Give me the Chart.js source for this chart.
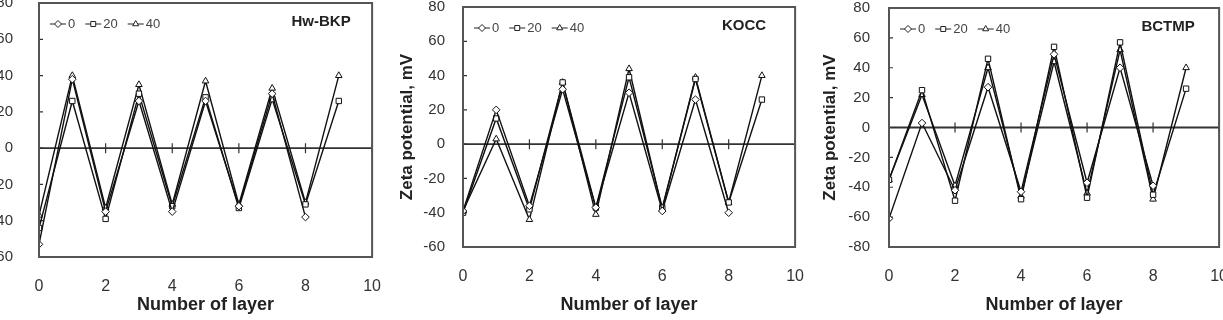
<!DOCTYPE html>
<html>
<head>
<meta charset="utf-8">
<script src="https://cdn.jsdelivr.net/npm/chart.js@4.4.1/dist/chart.umd.min.js"></script>
<style>
  body { margin: 0; background: #fff; width: 1223px; height: 320px; overflow: hidden; position: relative; }
  canvas { position: absolute; top: -20px; }
</style>
</head>
<body>
<canvas id="hw" width="451" height="352" style="left:-50px; top:-32px"></canvas>
<canvas id="kocc" width="429" height="340" style="left:395px"></canvas>
<canvas id="bctmp" width="428" height="340" style="left:820px"></canvas>
<script>
// number of layers (x) and the three series (legend labels)
var layers = [0, 1, 2, 3, 4, 5, 6, 7, 8, 9];
var seriesNames = ['0', '20', '40'];
var xTicks = [0, 2, 4, 6, 8, 10];
var yTicks60 = [-60, -40, -20, 0, 20, 40, 60, 80];
var yTicks80 = [-80, -60, -40, -20, 0, 20, 40, 60, 80];

// Hw-BKP
var hw0  = [-53, 38, -35, 26, -35, 26, -32, 30, -38];
var hw20 = [-44, 26, -39, 30, -32, 28, -33, 27, -31, 26];
var hw40 = [-37, 40, -33, 35, -31, 37, -31, 33, -30, 40];

// KOCC
var kocc0  = [-39, 20, -36, 32, -37, 30, -39, 26, -40];
var kocc20 = [-40, 15, -38, 36, -37, 39, -37, 38, -34, 26];
var kocc40 = [-39, 3, -44, 36, -41, 44, -38, 39, -34, 40];

// BCTMP
var bctmp0  = [-61, 3, -42, 27, -43, 49, -37, 40, -39];
var bctmp20 = [-35, 25, -49, 46, -48, 54, -47, 57, -45, 26];
var bctmp40 = [-35, 22, -39, 40, -46, 44, -44, 52, -48, 40];

var FONT = "'Liberation Sans', Arial, sans-serif";
var markers = ['rectRot', 'rect', 'triangle'];

function points(vals) {
  var out = [];
  for (var i = 0; i < vals.length; i++) {
    out.push({x: layers[i], y: vals[i]});
  }
  return out;
}

// box, zero line with its ticks, legend and sample name
var framePlugin = {
  id: 'frame',
  beforeDatasetsDraw: function(chart) {
    var ctx = chart.ctx, a = chart.chartArea, x = chart.scales.x, y = chart.scales.y;
    var y0 = y.getPixelForValue(0);
    ctx.save();
    ctx.strokeStyle = '#333';
    ctx.lineWidth = 1.8;
    ctx.beginPath();
    ctx.moveTo(a.left, y0);
    ctx.lineTo(a.right, y0);
    ctx.stroke();
    ctx.lineWidth = 1.2;
    ctx.beginPath();
    x.ticks.forEach(function(t) {
      var px = x.getPixelForValue(t.value);
      ctx.moveTo(px, y0 - 5);
      ctx.lineTo(px, y0 + 5);
    });
    y.ticks.forEach(function(t) {
      var py = y.getPixelForValue(t.value);
      ctx.moveTo(a.left, py);
      ctx.lineTo(a.left + 4, py);
    });
    ctx.stroke();
    ctx.restore();
  },
  afterDraw: function(chart) {
    var ctx = chart.ctx, a = chart.chartArea;
    ctx.save();
    ctx.strokeStyle = '#555';
    ctx.lineWidth = 2;
    ctx.strokeRect(a.left, a.top, a.right - a.left, a.bottom - a.top);

    // legend
    ctx.font = '13px ' + FONT;
    ctx.textBaseline = 'middle';
    var lx = a.left + 11, ly = a.top + 21;
    chart.data.datasets.forEach(function(ds) {
      ctx.strokeStyle = '#222';
      ctx.lineWidth = 1;
      ctx.beginPath();
      ctx.moveTo(lx, ly);
      ctx.lineTo(lx + 16, ly);
      ctx.stroke();
      ctx.fillStyle = '#fff';
      Chart.helpers.drawPoint(ctx, {pointStyle: ds.pointStyle, radius: 3.5, borderWidth: 1, rotation: 0}, lx + 8, ly);
      ctx.fillStyle = '#444';
      ctx.textAlign = 'left';
      ctx.fillText(ds.label, lx + 18, ly);
      lx += 18 + ctx.measureText(ds.label).width + 10;
    });

    ctx.font = 'bold 15px ' + FONT;
    ctx.fillStyle = '#222';
    ctx.textAlign = 'center';
    ctx.fillText(chart.options.plugins.frame.name, a.right - 51, a.top + 19);
    ctx.restore();
  }
};

function makePanel(id, series, yTicks, name, opt) {
  var datasets = series.map(function(vals, i) {
    return {
      label: seriesNames[i],
      data: points(vals),
      borderColor: '#111',
      borderWidth: 1.4,
      pointStyle: markers[i],
      pointRadius: 3.8,
      pointBorderWidth: 1,
      pointBorderColor: '#111',
      pointBackgroundColor: '#fff',
      tension: 0
    };
  });

  return new Chart(document.getElementById(id), {
    type: 'line',
    data: {datasets: datasets},
    options: {
      responsive: false,
      animation: false,
      layout: {padding: {top: opt.top, left: 0, right: 20, bottom: 0}},
      plugins: {
        legend: {display: false},
        tooltip: {enabled: false},
        frame: {name: name}
      },
      scales: {
        x: {
          type: 'linear',
          min: 0, max: 10,
          grid: {display: false, drawTicks: false},
          border: {display: false},
          afterBuildTicks: function(s) { s.ticks = xTicks.map(function(v) { return {value: v}; }); },
          afterFit: function(s) { s.height = opt.xh; },
          ticks: {padding: 20, color: '#333', font: {family: FONT, size: 16}},
          title: {
            display: true, text: 'Number of layer', color: '#222',
            font: {family: FONT, size: 18, weight: 'bold'},
            padding: {top: 0, bottom: 4}
          }
        },
        y: {
          min: yTicks[0], max: yTicks[yTicks.length - 1],
          grid: {display: false, drawTicks: false},
          border: {display: false},
          afterBuildTicks: function(s) { s.ticks = yTicks.map(function(v) { return {value: v}; }); },
          afterFit: function(s) { s.width = opt.yw; },
          ticks: {padding: opt.tp, color: '#333', font: {family: FONT, size: 15}},
          title: {
            display: true, text: 'Zeta potential, mV', color: '#222',
            font: {family: FONT, size: 17, weight: 'bold'},
            padding: {top: opt.tt, bottom: 0}
          }
        }
      }
    },
    plugins: [framePlugin]
  });
}

makePanel('hw', [hw0, hw20, hw40], yTicks60, 'Hw-BKP', {top: 35, xh: 63, yw: 89, tp: 26, tt: 0});
makePanel('kocc', [kocc0, kocc20, kocc40], yTicks60, 'KOCC', {top: 26, xh: 73, yw: 68, tp: 18, tt: 2});
makePanel('bctmp', [bctmp0, bctmp20, bctmp40], yTicks80, 'BCTMP', {top: 27, xh: 73, yw: 69, tp: 19, tt: 0});
</script>
</body>
</html>
